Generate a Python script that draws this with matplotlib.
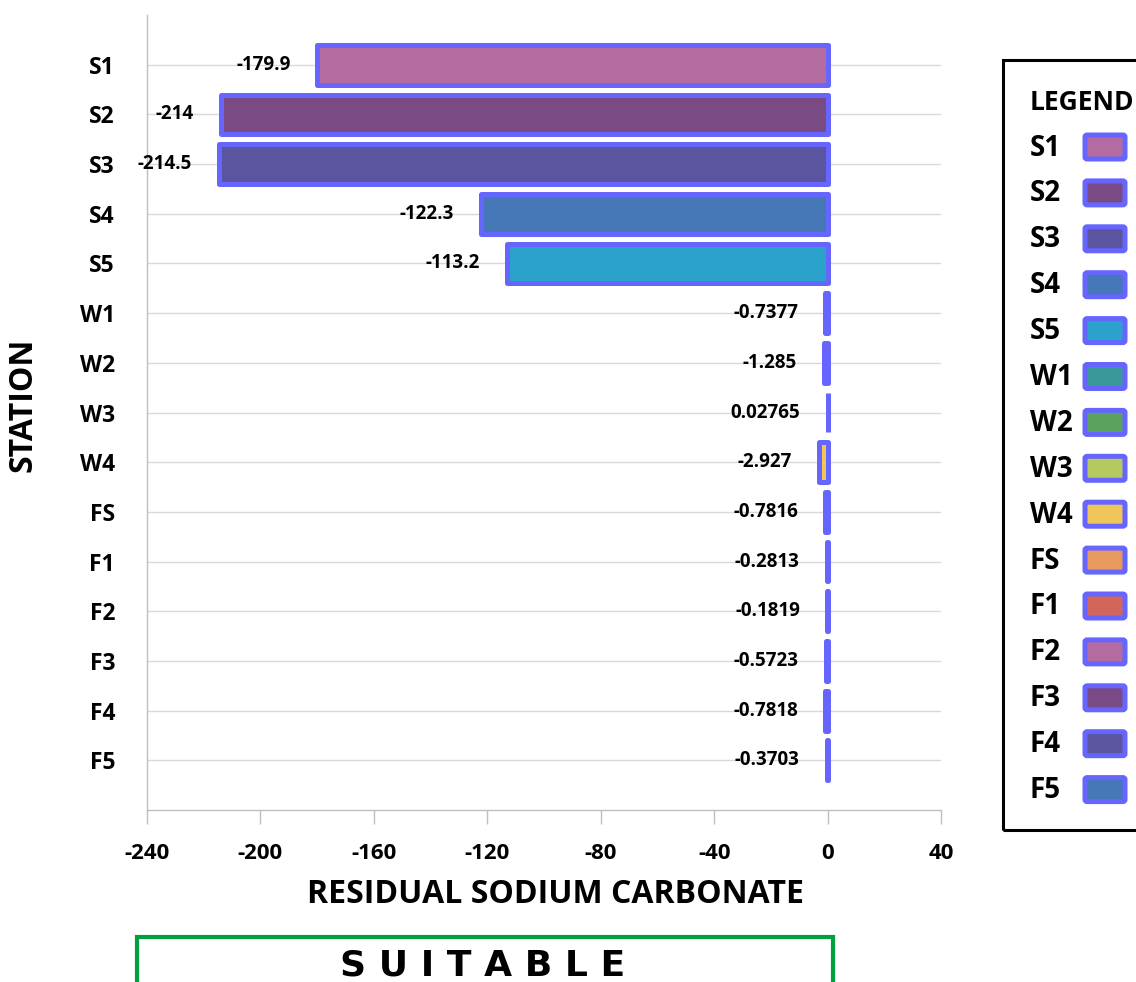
import matplotlib.pyplot as plt
from matplotlib.patches import Rectangle, FancyBboxPatch

plt.rcParams['font.family'] = ['Open Sans', 'DejaVu Sans']
plt.rcParams['font.weight'] = 'bold'

stations = ["S1", "S2", "S3", "S4", "S5", "W1", "W2", "W3", "W4",
            "FS", "F1", "F2", "F3", "F4", "F5"]
rsc = [-179.9, -214, -214.5, -122.3, -113.2, -0.7377, -1.285, 0.02765,
       -2.927, -0.7816, -0.2813, -0.1819, -0.5723, -0.7818, -0.3703]
colors = ["#b36ba0", "#7a4a85", "#5a559e", "#4678b8", "#2aa2cc",
          "#3a9898", "#5ba25e", "#b6c95f", "#f0c65a", "#e89a5e",
          "#d3665a", "#b36ba0", "#7a4a85", "#5a559e", "#4678b8"]
xticks = [-240, -200, -160, -120, -80, -40, 0, 40]

W, H = 1136, 982
fig = plt.figure(figsize=(W / 100, H / 100), dpi=100)
ax = fig.add_axes([147 / W, 1 - 810 / H, (941 - 147) / W, (810 - 15) / H])

edge = "#6666ff"
ypos = list(range(len(stations)))
ax.barh(ypos, rsc, height=0.8, color=colors, edgecolor=edge,
        linewidth=3.6, joinstyle="round", zorder=3)

for y, v in zip(ypos, rsc):
    ax.annotate(f"{v:g}", xy=(min(v, 0), y), xytext=(-27, 0),
                textcoords="offset pixels", ha="right", va="center",
                fontsize=13.5, fontweight="bold", zorder=4)

ax.set_xlim(-240, 40)
ax.set_ylim(len(stations), -1)
ax.set_xticks(xticks)
ax.set_xticklabels([str(t) for t in xticks], fontsize=16, fontweight="bold")
ax.set_yticks(ypos)
ax.set_yticklabels(stations, fontsize=16.5, fontweight="bold")
ax.tick_params(axis="y", length=0, pad=23)
ax.tick_params(axis="x", length=10, color="#bfbfbf", width=1, pad=14)
ax.grid(axis="y", color="#d9d9d9", linewidth=1, zorder=0)
for s in ["top", "right"]:
    ax.spines[s].set_visible(False)
for s in ["left", "bottom"]:
    ax.spines[s].set_color("#bfbfbf")
    ax.spines[s].set_linewidth(1)

ax.set_xlabel("RESIDUAL SODIUM CARBONATE", fontsize=23, fontweight="bold")
ax.set_ylabel("STATION", fontsize=23, fontweight="bold")
ax.xaxis.set_label_coords(0.515, -0.085)
ax.yaxis.set_label_coords(-0.135, 0.51)

# legend panel, drawn in figure pixels
lg = Rectangle((1003 / W, 1 - 830 / H), 200 / W, (830 - 60) / H,
               transform=fig.transFigure, fill=False, edgecolor="black",
               linewidth=2.2, clip_on=False)
fig.patches.append(lg)
fig.text(1030 / W, 1 - 102 / H, "LEGEND", fontsize=19, fontweight="bold",
         va="center", ha="left")
row0, step = 147, 45.9
for i, (name, c) in enumerate(zip(stations, colors)):
    yc = row0 + i * step
    fig.text(1030 / W, 1 - (yc + 1) / H, name, fontsize=20, fontweight="bold",
             va="center", ha="left")
    p = FancyBboxPatch((1085 / W, 1 - (yc + 12) / H), 40 / W, 24 / H,
                       boxstyle="round,pad=0,rounding_size=0.002",
                       transform=fig.transFigure, facecolor=c,
                       edgecolor=edge, linewidth=3.6)
    fig.patches.append(p)

# suitability box under the axis
box = Rectangle((137 / W, -0.05), (833 - 137) / W, 0.05 + 1 - 937 / H,
                transform=fig.transFigure, fill=False, edgecolor="#00a040",
                linewidth=3, clip_on=False)
fig.patches.append(box)
fig.text(483 / W, 1 - 976 / H, "S U I T A B L E", family="DejaVu Sans",
         fontsize=26, fontweight="bold", ha="center", va="baseline")

fig.savefig("out.png", dpi=100)
